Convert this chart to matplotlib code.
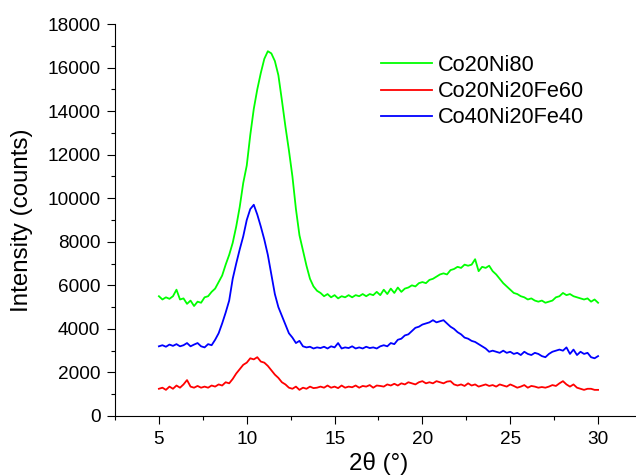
import numpy as np
import matplotlib
matplotlib.use("Agg")
import matplotlib.pyplot as plt
from matplotlib.ticker import MultipleLocator

plt.rcParams['font.family'] = ['Liberation Sans', 'DejaVu Sans']

# 2theta sampled every 0.2 deg from 5 to 30
two_theta = np.round(5 + 0.2 * np.arange(126), 1)

co20ni80 = [5500, 5350, 5450, 5380, 5500, 5800, 5350, 5400, 5150, 5300,
            5050, 5250, 5200, 5450, 5500, 5700, 5850, 6150, 6450, 6950,
            7400, 7950, 8700, 9600, 10700, 11500, 12900, 14100, 15000, 15750,
            16400, 16750, 16650, 16300, 15650, 14500, 13300, 12200, 11000, 9500,
            8300, 7600, 6900, 6300, 5950, 5750, 5650, 5500, 5600, 5450,
            5550, 5400, 5500, 5450, 5550, 5450, 5550, 5500, 5600, 5500,
            5600, 5550, 5700, 5550, 5800, 5600, 5850, 5650, 5900, 5700,
            5850, 5900, 6000, 5950, 6100, 6150, 6100, 6250, 6300, 6400,
            6500, 6550, 6500, 6700, 6750, 6850, 6800, 6950, 6900, 6950,
            7200, 6650, 6850, 6800, 6900, 6650, 6500, 6300, 6100, 5950,
            5800, 5650, 5600, 5500, 5450, 5350, 5400, 5300, 5250, 5300,
            5200, 5250, 5300, 5450, 5500, 5650, 5550, 5600, 5500, 5450,
            5400, 5350, 5400, 5250, 5350, 5200]

co20ni20fe60 = [1250, 1300, 1200, 1350, 1250, 1400, 1300, 1450, 1650, 1350,
                1300, 1380, 1300, 1350, 1300, 1400, 1350, 1450, 1400, 1550,
                1500, 1700, 1950, 2150, 2350, 2450, 2650, 2600, 2700, 2500,
                2450, 2300, 2100, 1900, 1750, 1550, 1450, 1300, 1250, 1350,
                1200, 1300, 1250, 1350, 1280, 1300, 1350, 1300, 1400, 1300,
                1350, 1280, 1400, 1300, 1350, 1320, 1400, 1300, 1380, 1350,
                1420, 1300, 1400, 1380, 1350, 1450, 1400, 1480, 1400, 1500,
                1450, 1550, 1500, 1450, 1550, 1600, 1500, 1550, 1500, 1600,
                1550, 1500, 1580, 1600, 1450, 1400, 1450, 1380, 1500, 1400,
                1450, 1350, 1400, 1450, 1380, 1420, 1350, 1450, 1400, 1350,
                1450, 1380, 1300, 1350, 1420, 1300, 1380, 1350, 1300, 1330,
                1300, 1350, 1420, 1380, 1500, 1600, 1450, 1350, 1450, 1300,
                1250, 1200, 1250, 1250, 1200, 1200]

co40ni20fe40 = [3200, 3250, 3180, 3280, 3220, 3300, 3200, 3250, 3350, 3200,
                3280, 3350, 3200, 3150, 3300, 3250, 3500, 3800, 4250, 4750,
                5300, 6300, 7000, 7650, 8250, 9000, 9500, 9700, 9250, 8700,
                8100, 7400, 6500, 5600, 5000, 4600, 4200, 3800, 3600, 3350,
                3450, 3200, 3150, 3180, 3100, 3150, 3120, 3180, 3100, 3200,
                3150, 3350, 3100, 3150, 3120, 3200, 3100, 3150, 3100, 3180,
                3120, 3150, 3100, 3200, 3250, 3200, 3350, 3300, 3500, 3550,
                3700, 3750, 3900, 4050, 4100, 4200, 4250, 4300, 4400, 4300,
                4350, 4400, 4250, 4100, 4000, 3850, 3750, 3600, 3550, 3450,
                3400, 3300, 3200, 3100, 2950, 3000, 2950, 2900, 3000, 2900,
                2950, 2850, 2900, 2800, 2950, 2850, 2800, 2900, 2850, 2750,
                2700, 2850, 2950, 3000, 3050, 3000, 3150, 2850, 3050, 2800,
                2950, 2850, 2900, 2700, 2650, 2750]

labels = ['Co20Ni80', 'Co20Ni20Fe60', 'Co40Ni20Fe40']
colors = ['#00ff00', '#ff0000', '#0000ff']

fig = plt.figure(figsize=(6.36, 4.75), dpi=100)
ax = fig.add_axes([115/636, 59/475, 527/636, 392/475])

for ys, lab, c in zip([co20ni80, co20ni20fe60, co40ni20fe40], labels, colors):
    ax.plot(two_theta, ys, color=c, lw=1.3, label=lab)

ax.set_xlim(2.5, 32.5)
ax.set_ylim(0, 18000)
ax.xaxis.set_major_locator(MultipleLocator(5))
ax.xaxis.set_minor_locator(MultipleLocator(2.5))
ax.yaxis.set_major_locator(MultipleLocator(2000))
ax.yaxis.set_minor_locator(MultipleLocator(1000))
ax.spines['top'].set_visible(False)
ax.spines['right'].set_visible(False)
for s in ['left', 'bottom']:
    ax.spines[s].set_linewidth(0.8)
ax.tick_params(which='major', direction='out', length=5.5, width=0.8,
               labelsize=13.7, pad=5)
ax.tick_params(which='minor', direction='out', length=3, width=0.8)

ax.set_ylabel('Intensity (counts)', fontsize=17.4, labelpad=10)
ax.set_xlabel('2θ (°)', fontsize=17.4, labelpad=3)

ax.legend(loc='upper left', bbox_to_anchor=(381/636, 1 - 55/475),
          bbox_transform=fig.transFigure, frameon=False, fontsize=15.7,
          handlelength=2.34, handletextpad=0.28, labelspacing=0.24,
          borderpad=0, borderaxespad=0)

fig.savefig('out.png', dpi=100)
